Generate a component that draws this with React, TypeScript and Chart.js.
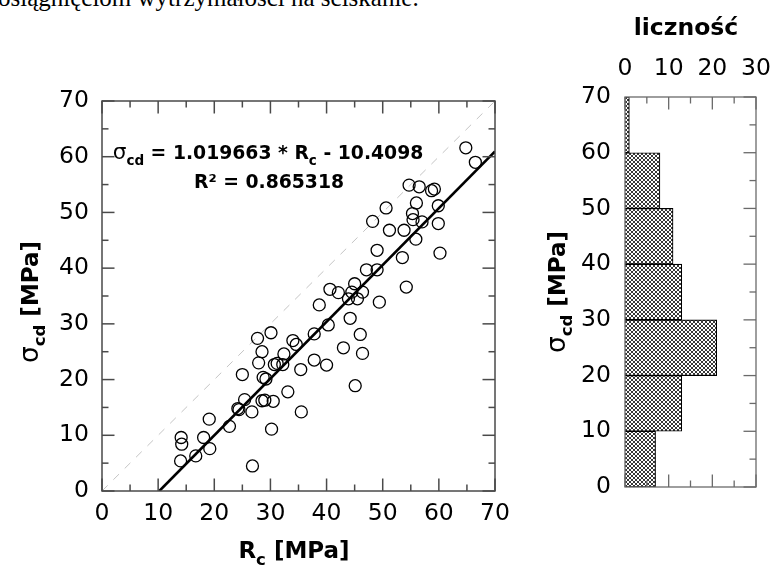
import React, { useEffect, useRef } from 'react';
import { Chart, registerables } from 'chart.js';
Chart.register(...registerables);

// ---------- data ----------
const rcValues = [14.1, 14.2, 14.0, 16.7, 18.1, 19.2, 19.1, 22.7, 24.2, 24.4, 25.4, 26.7, 25.0, 26.8, 27.7, 28.5, 27.9, 28.7, 29.2, 28.5, 29.0, 30.1, 30.7, 31.2, 30.5, 30.2, 32.4, 32.2, 33.1, 34.0, 34.6, 35.4, 35.5, 37.8, 37.8, 40.0, 40.3, 38.7, 43.0, 44.2, 46.0, 46.4, 45.1, 40.6, 42.1, 45.0, 44.5, 46.4, 43.9, 45.5, 49.4, 47.1, 49.0, 49.0, 48.2, 50.6, 51.2, 53.8, 53.5, 54.2, 55.9, 55.4, 57.0, 55.3, 56.0, 54.7, 56.5, 58.7, 59.2, 59.9, 59.9, 60.2, 64.8, 66.5];
const sigmaValues = [9.6, 8.4, 5.4, 6.3, 9.6, 7.6, 12.9, 11.6, 14.8, 14.6, 16.4, 14.2, 20.9, 4.5, 27.4, 25.0, 23.0, 20.4, 20.1, 16.2, 16.3, 28.4, 22.7, 22.9, 16.1, 11.1, 24.6, 22.7, 17.8, 27.0, 26.3, 21.8, 14.2, 28.2, 23.5, 22.6, 29.8, 33.4, 25.7, 31.0, 28.1, 24.7, 18.9, 36.2, 35.6, 37.2, 35.7, 35.7, 34.5, 34.5, 33.9, 39.7, 39.7, 43.2, 48.4, 50.8, 46.8, 46.8, 41.9, 36.6, 45.2, 48.7, 48.3, 49.8, 51.7, 54.9, 54.6, 53.9, 54.2, 51.2, 48.0, 42.7, 61.6, 59.0];
const REG_SLOPE = 1.019663;
const REG_INTERCEPT = -10.4098;
const R_SQUARED = 0.865318;
const AXIS_MIN = 0;
const AXIS_MAX = 70;
const AXIS_STEP = 10;
const histBinStarts = [0, 10, 20, 30, 40, 50, 60];
const histBinWidth = 10;
const histCounts = [7, 13, 21, 13, 11, 8, 1];
const histCountMax = 30;
const topText = 'osiągnięciom wytrzymałości na ściskanie.';

const FONT = '"DejaVu Sans", sans-serif';

type Part = { t: string; sub?: boolean; weight?: string; scale?: number };

function partFont(p: Part, size: number, weight: string) {
  const s = p.sub ? size * 0.72 : size * (p.scale || 1);
  return `${p.weight || weight} ${s}px ${FONT}`;
}

function drawRich(ctx: CanvasRenderingContext2D, parts: Part[], x: number, y: number, size: number, weight = 'bold') {
  const widths = parts.map((p) => {
    ctx.font = partFont(p, size, weight);
    return ctx.measureText(p.t).width;
  });
  const total = widths.reduce((a, b) => a + b, 0);
  let cx = x - total / 2;
  ctx.textAlign = 'left';
  ctx.textBaseline = 'alphabetic';
  ctx.fillStyle = '#000';
  parts.forEach((p, i) => {
    ctx.font = partFont(p, size, weight);
    ctx.fillText(p.t, cx, y + (p.sub ? size * 0.3 : 0));
    cx += widths[i];
  });
}

function line(ctx: CanvasRenderingContext2D, x1: number, y1: number, x2: number, y2: number) {
  ctx.beginPath();
  ctx.moveTo(x1, y1);
  ctx.lineTo(x2, y2);
  ctx.stroke();
}

function inwardTicks(ctx: CanvasRenderingContext2D, scale: any, sides: string[], area: any) {
  const minor = 5;
  for (let v = scale.min; v <= scale.max + 1e-6; v += minor) {
    const len = Math.abs(v % 10) < 1e-6 ? 12.5 : 6.5;
    const p = scale.getPixelForValue(v);
    sides.forEach((s) => {
      if (s === 'bottom') line(ctx, p, area.bottom, p, area.bottom - len);
      if (s === 'top') line(ctx, p, area.top, p, area.top + len);
      if (s === 'left') line(ctx, area.left, p, area.left + len, p);
      if (s === 'right') line(ctx, area.right, p, area.right - len, p);
    });
  }
}

const sigmaTitle: Part[] = [
  { t: 'σ', weight: 'normal', scale: 1.15 },
  { t: 'cd', sub: true },
  { t: ' [MPa]' },
];

const scatterPlugin = {
  id: 'scatterDecor',
  afterDraw(chart: any) {
    const ctx = chart.ctx as CanvasRenderingContext2D;
    const a = chart.chartArea;
    ctx.save();
    ctx.strokeStyle = '#4a4a4a';
    ctx.lineWidth = 1.5;
    ctx.strokeRect(a.left, a.top, a.right - a.left, a.bottom - a.top);
    inwardTicks(ctx, chart.scales.x, ['bottom', 'top'], a);
    inwardTicks(ctx, chart.scales.y, ['left', 'right'], a);
    // equation
    drawRich(ctx, [
      { t: 'σ', weight: 'normal', scale: 1.15 },
      { t: 'cd', sub: true },
      { t: ` = ${REG_SLOPE} * R` },
      { t: 'c', sub: true },
      { t: ` - ${Math.abs(REG_INTERCEPT)}` },
    ], 268, 159, 18.8);
    drawRich(ctx, [{ t: `R² = ${R_SQUARED}` }], 269, 188, 18.8);
    // x title
    drawRich(ctx, [{ t: 'R' }, { t: 'c', sub: true }, { t: ' [MPa]' }], 294, 558, 23);
    // y title
    ctx.save();
    ctx.translate(38, 302);
    ctx.rotate(-Math.PI / 2);
    drawRich(ctx, sigmaTitle, 0, 0, 23);
    ctx.restore();
    ctx.restore();
  },
};

const histPlugin = {
  id: 'histDecor',
  afterDraw(chart: any) {
    const ctx = chart.ctx as CanvasRenderingContext2D;
    const a = chart.chartArea;
    ctx.save();
    ctx.strokeStyle = '#6a6a6a';
    ctx.lineWidth = 1.3;
    ctx.strokeRect(a.left, a.top, a.right - a.left, a.bottom - a.top);
    inwardTicks(ctx, chart.scales.x, ['bottom', 'top'], a);
    inwardTicks(ctx, chart.scales.y, ['right'], a);
    drawRich(ctx, [{ t: 'liczność' }], 146, 35, 23.5);
    ctx.save();
    ctx.translate(25, 292);
    ctx.rotate(-Math.PI / 2);
    drawRich(ctx, sigmaTitle, 0, 0, 23);
    ctx.restore();
    ctx.restore();
  },
};

function makePattern(): CanvasPattern | string {
  const c = document.createElement('canvas');
  c.width = 4;
  c.height = 4;
  const g = c.getContext('2d');
  if (!g) return '#888';
  g.fillStyle = '#fff';
  g.fillRect(0, 0, 4, 4);
  g.fillStyle = '#383838';
  for (let i = 0; i < 4; i++) {
    g.fillRect(i, i, 1, 1);
    g.fillRect(3 - i, i, 1, 1);
  }
  return g.createPattern(c, 'repeat') || '#888';
}

const tickFont = { family: FONT, size: 23.5 };

export default function App() {
  const scRef = useRef<HTMLCanvasElement>(null);
  const hiRef = useRef<HTMLCanvasElement>(null);

  useEffect(() => {
    const points = rcValues.map((x, i) => ({ x, y: sigmaValues[i] }));
    const x0 = -REG_INTERCEPT / REG_SLOPE;
    const regLine = [
      { x: x0, y: 0 },
      { x: AXIS_MAX, y: REG_SLOPE * AXIS_MAX + REG_INTERCEPT },
    ];
    const diag = [
      { x: AXIS_MIN, y: AXIS_MIN },
      { x: AXIS_MAX, y: AXIS_MAX },
    ];

    const sc = new Chart(scRef.current as HTMLCanvasElement, {
      type: 'scatter',
      data: {
        datasets: [
          {
            data: points,
            pointRadius: 6,
            pointHoverRadius: 6,
            pointBorderWidth: 1.3,
            pointBorderColor: '#000',
            pointBackgroundColor: 'rgba(0,0,0,0)',
            showLine: false,
          },
          {
            data: regLine,
            showLine: true,
            borderColor: '#000',
            borderWidth: 2.6,
            pointRadius: 0,
          },
          {
            data: diag,
            showLine: true,
            borderColor: '#c4c4c4',
            borderWidth: 1,
            borderDash: [8, 8],
            pointRadius: 0,
          },
        ],
      } as any,
      options: {
        responsive: false,
        animation: false,
        devicePixelRatio: 1,
        layout: { padding: { left: 0, top: 101, right: 45, bottom: 0 } },
        plugins: { legend: { display: false }, tooltip: { enabled: false } },
        events: [],
        scales: {
          x: {
            type: 'linear',
            min: AXIS_MIN,
            max: AXIS_MAX,
            ticks: { stepSize: AXIS_STEP, font: tickFont, color: '#000', padding: 9, maxRotation: 0 },
            grid: { display: false, drawTicks: false },
            border: { display: false },
            afterFit: (s: any) => { s.height = 78; s.paddingLeft = 0; s.paddingRight = 0; },
          },
          y: {
            type: 'linear',
            min: AXIS_MIN,
            max: AXIS_MAX,
            ticks: { stepSize: AXIS_STEP, font: tickFont, color: '#000', padding: 13 },
            grid: { display: false, drawTicks: false },
            border: { display: false },
            afterFit: (s: any) => { s.width = 102; s.paddingTop = 0; s.paddingBottom = 0; },
          },
        },
      } as any,
      plugins: [scatterPlugin],
    });

    const histData = histBinStarts.map((b, i) => ({ x: histCounts[i], y: b + histBinWidth / 2 }));
    const hi = new Chart(hiRef.current as HTMLCanvasElement, {
      type: 'bar',
      data: {
        datasets: [
          {
            data: histData,
            backgroundColor: makePattern(),
            borderColor: '#000',
            borderWidth: 1.1,
            barPercentage: 1,
            categoryPercentage: 1,
          },
        ],
      } as any,
      options: {
        indexAxis: 'y',
        responsive: false,
        animation: false,
        devicePixelRatio: 1,
        layout: { padding: { left: 0, top: 0, right: 16, bottom: 82 } },
        plugins: { legend: { display: false }, tooltip: { enabled: false } },
        events: [],
        scales: {
          x: {
            type: 'linear',
            position: 'top',
            min: 0,
            max: histCountMax,
            offset: false,
            ticks: { stepSize: 10, font: tickFont, color: '#000', padding: 14, maxRotation: 0 },
            grid: { display: false, drawTicks: false, offset: false },
            border: { display: false },
            afterFit: (s: any) => { s.height = 97; s.paddingLeft = 0; s.paddingRight = 0; },
          },
          y: {
            type: 'linear',
            min: AXIS_MIN,
            max: AXIS_MAX,
            offset: false,
            ticks: { stepSize: AXIS_STEP, font: tickFont, color: '#000', padding: 14 },
            grid: { display: false, drawTicks: false, offset: false },
            border: { display: false },
            afterFit: (s: any) => { s.width = 85; s.paddingTop = 0; s.paddingBottom = 0; },
          },
        },
      } as any,
      plugins: [histPlugin],
    });

    return () => {
      sc.destroy();
      hi.destroy();
    };
  }, []);

  return (
    <div style={{ position: 'absolute', left: 0, top: 0, width: 772, height: 569, overflow: 'hidden', background: '#fff' }}>
      <div
        style={{
          position: 'absolute',
          left: -2,
          top: -15,
          fontFamily: '"Liberation Serif", serif',
          fontSize: 25,
          lineHeight: '25px',
          whiteSpace: 'nowrap',
          color: '#000',
        }}
      >
        {topText}
      </div>
      <canvas ref={scRef} width={540} height={569} style={{ position: 'absolute', left: 0, top: 0, width: 540, height: 569 }} />
      <canvas ref={hiRef} width={232} height={569} style={{ position: 'absolute', left: 540, top: 0, width: 232, height: 569 }} />
    </div>
  );
}
